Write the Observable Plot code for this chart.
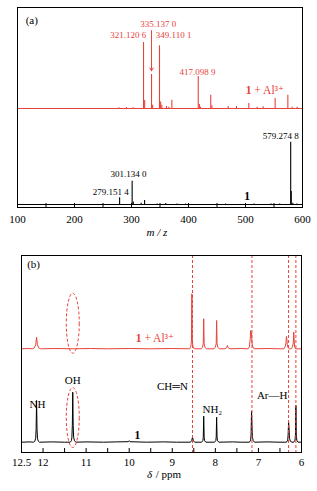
<!DOCTYPE html>
<html><head><meta charset="utf-8">
<script src="https://cdn.jsdelivr.net/npm/d3@7"></script>
<script src="https://cdn.jsdelivr.net/npm/@observablehq/plot@0.6"></script>
<style>
body{margin:0;background:#fff;width:317px;height:491px;overflow:hidden}
svg{display:block}
svg, svg text{font-family:"Liberation Serif","Times New Roman",Times,"DejaVu Serif",serif !important}
</style></head><body><div id="chart"></div>
<script>
// ---------- (a) ESI-MS data ----------
const redMz  = [277.8, 291.2, 302.9, 321.1206, 323.1, 335.137, 337.1, 349.1101, 351.1, 353.2, 361.4, 365.5, 370.8, 417.0989, 419.1, 421, 439, 441, 469.6, 484.2, 505.8, 520.5, 531, 552, 574.3, 581.9, 590.6];
const redInt = [1, 1.5, 1, 100, 12, 51.5, 5, 95, 10, 5, 3, 2, 12.5, 48.5, 6, 2, 20, 4, 3, 3, 7.5, 2, 2.5, 15, 20, 2, 2];
const blackMz  = [279.1514, 301.134, 303.1, 317, 323, 345, 360, 380, 395, 465, 515, 545, 560, 579.2748, 580.28, 583, 590];
const blackInt = [11, 37.5, 4, 2, 6.5, 1, 1.5, 1, 1, 1, 1, 1, 1, 100, 21, 2, 1];
const msTicks = [100, 200, 300, 400, 500, 600];
const msMinorTicks = [100, 150, 200, 250, 300, 350, 400, 450, 500, 550, 600];

// ---------- (b) 1H NMR data: [ppm, intensity] ----------
const nmrBlack = [[12.5,0],[12.3,0.3],[12.22,0],[12.19,1],[12.17,4],[12.16,14],[12.15,41.7],[12.14,14],[12.13,4],[12.11,1],[12.08,0],
 [11.8,0.3],[11.5,0],[11.37,0],[11.34,1.5],[11.33,5],[11.32,17],[11.31,50],[11.30,17],[11.29,5],[11.27,1.5],[11.24,0],
 [11.0,0.3],[10.6,0],[10.3,0.3],[10.02,0.5],[10.0,1.5],[9.98,0.5],[9.6,0],[9.2,0.3],[8.9,0],
 [8.58,0],[8.55,1.5],[8.53,5],[8.51,1.5],[8.48,0],
 [8.32,0],[8.29,1.5],[8.28,5],[8.27,26],[8.26,5],[8.25,1.5],[8.22,0],
 [8.02,0],[7.99,1.5],[7.98,5],[7.97,25],[7.96,5],[7.95,1.5],[7.92,0],
 [7.6,0.3],[7.4,0],[7.21,0],[7.18,2],[7.17,8],[7.16,31],[7.15,18],[7.14,5],[7.12,1.5],[7.09,0],
 [6.8,0.3],[6.5,0],[6.35,0],[6.32,2],[6.31,8],[6.30,20],[6.29,15],[6.28,4],[6.26,1],[6.22,0],
 [6.18,0],[6.15,2],[6.14,8],[6.13,36.7],[6.12,8],[6.11,2],[6.08,0],[6.0,0]];
const nmrRed = [[12.5,0],[12.35,0.3],[12.24,0],[12.2,1],[12.17,4],[12.15,11.6],[12.13,4],[12.1,1],[12.06,0],
 [11.7,0.3],[11.3,0],[10.9,0.3],[10.5,0],[10.0,0.3],[9.5,0],[9.0,0.3],
 [8.6,0],[8.57,2],[8.555,8],[8.545,55],[8.535,8],[8.52,2],[8.49,0],
 [8.33,0],[8.30,1.5],[8.28,5],[8.27,30],[8.26,5],[8.24,1.5],[8.21,0],
 [8.03,0],[8.0,1.5],[7.98,5],[7.97,28.3],[7.96,5],[7.94,1.5],[7.91,0],
 [7.78,0],[7.74,1],[7.72,3.3],[7.70,1],[7.66,0],[7.4,0.3],
 [7.24,0],[7.21,2],[7.19,10],[7.18,18.3],[7.17,14],[7.16,16],[7.15,6],[7.13,2],[7.1,0],
 [6.8,0.3],[6.5,0],[6.41,0],[6.38,2],[6.36,6],[6.35,12.3],[6.34,10],[6.33,4],[6.31,1],[6.28,0],
 [6.24,0],[6.21,2],[6.19,6],[6.18,16.6],[6.17,8],[6.16,2],[6.14,0],[6.0,0]];
const nmrDashed = [8.53, 7.15, 6.30, 6.13];
const nmrTicks = [12.5, 12, 11, 10, 9, 8, 7, 6];
const nmrMinorTicks = [12.5, 12, 11.5, 11, 10.5, 10, 9.5, 9, 8.5, 8, 7.5, 7, 6.5, 6];
const ohPpm = 11.31;

// ---------- styling / layout ----------
const RED = "#e8433a";
const FONT = "'Liberation Serif', 'Times New Roman', Times, serif";
const A_RED0 = 99, A_BLK0 = 3, A_RED_K = 0.66, A_BLK_K = 0.623;
const B_RED0 = 103.7, B_BLK0 = 10.3;

const redPeaks = redMz.map((mz, i) => ({mz, v: redInt[i]}));
const blackPeaks = blackMz.map((mz, i) => ({mz, v: blackInt[i]}));

const msLabels = [
  {t: "335.137 0", x: 346.8, y: 183, a: "middle", c: RED},
  {t: "321.120 6", x: 325.8, y: 172, a: "end", c: RED},
  {t: "349.110 1", x: 342.6, y: 172, a: "start", c: RED},
  {t: "417.098 9", x: 415.8, y: 135.3, a: "middle", c: RED},
  {t: "579.274 8", x: 593.5, y: 71, a: "end", c: "#000"},
  {t: "301.134 0", x: 294.6, y: 33, a: "middle", c: "#000"},
  {t: "279.151 4", x: 295.3, y: 15, a: "end", c: "#000"}
];
const msLabelMarks = ["start", "middle", "end"].map(a =>
  Plot.text(msLabels.filter(d => d.a === a), {x: "x", y: "y", text: "t", textAnchor: a, fill: d => d.c, fontSize: 9, fontFamily: FONT}));

const ellipse = {draw(ctx) {
  const rx = 6.5, ry = 30, k = 0.5523;
  ctx.moveTo(rx, 0);
  ctx.bezierCurveTo(rx, ry*k, rx*k, ry, 0, ry);
  ctx.bezierCurveTo(-rx*k, ry, -rx, ry*k, -rx, 0);
  ctx.bezierCurveTo(-rx, -ry*k, -rx*k, -ry, 0, -ry);
  ctx.bezierCurveTo(rx*k, -ry, rx, -ry*k, rx, 0);
  ctx.closePath();
}};

const style = {fontFamily: FONT, fontSize: "11px", background: "#fff", color: "#000"};

const plotA = Plot.plot({
  width: 317, height: 250,
  marginLeft: 17, marginRight: 15, marginTop: 7, marginBottom: 43,
  style,
  x: {domain: [100, 600]},
  y: {domain: [0, 200], axis: null},
  color: {type: "identity"},
  marks: [
    Plot.ruleY([A_RED0], {stroke: RED, strokeWidth: 1}),
    Plot.ruleY([A_BLK0], {stroke: "#000", strokeWidth: 1}),
    Plot.ruleX(msMinorTicks, {y1: 0, y2: 4, stroke: "#000", strokeWidth: 1}),
    Plot.ruleX(redPeaks, {x: "mz", y1: A_RED0, y2: d => A_RED0 + d.v * A_RED_K, stroke: RED, strokeWidth: 1.1}),
    Plot.ruleX(blackPeaks, {x: "mz", y1: A_BLK0, y2: d => A_BLK0 + d.v * A_BLK_K, stroke: "#000", strokeWidth: 1.1}),
    Plot.arrow([{x: 335.137}], {x1: "x", x2: "x", y1: A_RED0 + 118 * A_RED_K, y2: A_RED0 + 57 * A_RED_K, stroke: RED, strokeWidth: 1, headLength: 5}),
    ...msLabelMarks,
    Plot.text(["1"], {x: 510.5, y: 117, text: d => d, textAnchor: "end", fill: RED, fontWeight: "bold", fontSize: 11.5, fontFamily: FONT}),
    Plot.text([" + Al³⁺"], {x: 510.5, y: 117, text: d => d, textAnchor: "start", fill: RED, fontSize: 11.5, fontFamily: FONT}),
    Plot.text(["1"], {x: 503, y: 11, text: d => d, fill: "#000", fontWeight: "bold", fontSize: 11.5, fontFamily: FONT}),
    Plot.text(["(a)"], {x: 125, y: 187, text: d => d, fill: "#000", fontSize: 11, fontFamily: FONT}),
    Plot.frame({stroke: "#000", strokeWidth: 1}),
    Plot.axisX({ticks: msTicks, tickSize: 0, tickPadding: 8, label: null, fontSize: 11, fontFamily: FONT}),
    Plot.text(["m / z"], {frameAnchor: "bottom", dy: 28, dx: -3, text: d => d, fontStyle: "italic", fontSize: 11, fontFamily: FONT})
  ]
});

const plotB = Plot.plot({
  width: 317, height: 241,
  marginLeft: 21, marginRight: 16, marginTop: 5, marginBottom: 39,
  style,
  x: {domain: [12.5, 6]},
  y: {domain: [0, 197], axis: null},
  marks: [
    Plot.ruleX(nmrMinorTicks, {y1: 0, y2: 4, stroke: "#000", strokeWidth: 1}),
    Plot.line(nmrRed, {x: d => d[0], y: d => B_RED0 + d[1], stroke: RED, strokeWidth: 1}),
    Plot.line(nmrBlack, {x: d => d[0], y: d => B_BLK0 + d[1], stroke: "#000", strokeWidth: 1}),
    Plot.ruleX(nmrDashed, {stroke: RED, strokeWidth: 1, strokeDasharray: "3,2"}),
    Plot.dot([129.3, 35], {x: ohPpm, y: d => d, symbol: ellipse, r: 1, stroke: RED, fill: "none", strokeWidth: 1, strokeDasharray: "3,2"}),
    Plot.text([{t: "NH", x: 12.13, y: 48}, {t: "OH", x: 11.31, y: 72}, {t: "CH═N", x: 8.995, y: 66}, {t: "NH₂", x: 8.07, y: 42.7}, {t: "Ar—H", x: 6.68, y: 57}],
      {x: "x", y: "y", text: "t", fill: "#000", fontSize: 11, fontFamily: FONT}),
    Plot.text(["1"], {x: 9.81, y: 17, text: d => d, fill: "#000", fontWeight: "bold", fontSize: 11.5, fontFamily: FONT}),
    Plot.text(["1"], {x: 9.714, y: 113.7, text: d => d, textAnchor: "end", fill: RED, fontWeight: "bold", fontSize: 11.5, fontFamily: FONT}),
    Plot.text([" + Al³⁺"], {x: 9.714, y: 113.7, text: d => d, textAnchor: "start", fill: RED, fontSize: 11.5, fontFamily: FONT}),
    Plot.text(["(b)"], {x: 12.22, y: 188, text: d => d, fill: "#000", fontSize: 11, fontFamily: FONT}),
    Plot.frame({stroke: "#000", strokeWidth: 1}),
    Plot.axisX({ticks: nmrTicks, tickSize: 0, tickPadding: 5.5, label: null, fontSize: 11, fontFamily: FONT, tickFormat: d => String(d)}),
    Plot.text(["δ"], {frameAnchor: "bottom", dy: 25, dx: -12, text: d => d, fontStyle: "italic", fontSize: 11, fontFamily: FONT}),
    Plot.text([" / ppm"], {frameAnchor: "bottom", dy: 25, dx: -8.5, textAnchor: "start", text: d => d, fontSize: 11, fontFamily: FONT})
  ]
});

const root = document.getElementById("chart");
root.appendChild(plotA);
root.appendChild(plotB);
</script></body></html>
